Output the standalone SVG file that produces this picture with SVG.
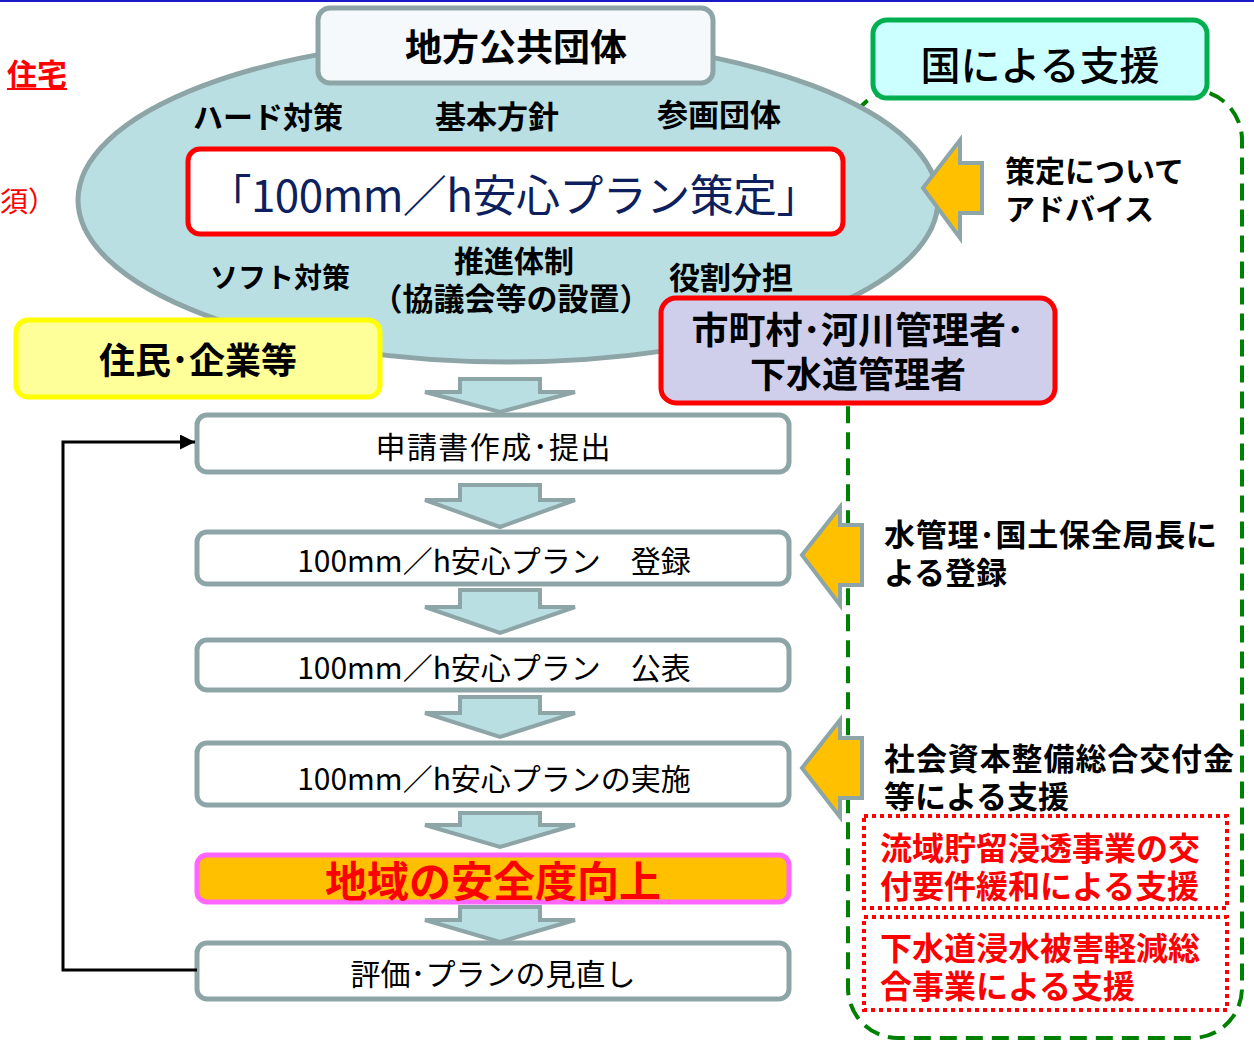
<svg xmlns="http://www.w3.org/2000/svg" width="1254" height="1040" viewBox="0 0 1254 1040">
<defs>
<style>
text{font-family:"Noto Sans CJK JP","Noto Sans CJK SC",sans-serif;}
.b{font-weight:bold;}
.blk{fill:#000;}
.red{fill:#FF0000;}
.flow{fill:#fff;stroke:#8DA5A7;stroke-width:5;}
.down{fill:#B9DFE3;stroke:#8DA5A7;stroke-width:4;stroke-linejoin:miter;}
.left{fill:#FFC000;stroke:#8DA5A7;stroke-width:4;}
.dot{fill:none;stroke:#FF0000;stroke-width:4;stroke-dasharray:4 4;}
</style>
<marker id="ah" viewBox="0 0 10 10" refX="10" refY="5" markerWidth="5" markerHeight="5" orient="auto" markerUnits="strokeWidth">
<path d="M0,0 L10,5 L0,10 z" fill="#000"/>
</marker>
</defs>
<rect width="1254" height="1040" fill="#fff"/>
<line x1="0" y1="1" x2="1254" y2="1" stroke="#1A1AC8" stroke-width="2"/>

<!-- partial texts at left edge -->
<g id="edge-texts">
<text x="7" y="85" font-size="30" class="b red">住宅</text>
<line x1="7" y1="89" x2="67" y2="89" stroke="#FF0000" stroke-width="2"/>
<text x="0" y="212" font-size="28" class="red">須）</text>
</g>

<!-- national support container -->
<g id="national-container">
<rect x="848" y="90" width="394" height="948" rx="50" fill="none" stroke="#008000" stroke-width="4" stroke-dasharray="17 9"/>
</g>

<g id="local-gov">
<ellipse cx="508" cy="200" rx="430" ry="162" fill="#B9DFE3" stroke="#8DA5A7" stroke-width="5"/>
<rect x="318" y="8" width="395" height="75" rx="12" fill="#F5F9FB" stroke="#8DA5A7" stroke-width="5"/>
<text x="516" y="61" font-size="37" class="b blk" text-anchor="middle">地方公共団体</text>
<text x="268" y="128" font-size="30" class="b blk" text-anchor="middle">ハード対策</text>
<text x="497" y="128" font-size="31" class="b blk" text-anchor="middle">基本方針</text>
<text x="719" y="126" font-size="31" class="b blk" text-anchor="middle">参画団体</text>
<text x="280" y="288" font-size="28" class="b blk" text-anchor="middle">ソフト対策</text>
<text x="514" y="272" font-size="30" class="b blk" text-anchor="middle">推進体制</text>
<text x="511" y="310" font-size="31" class="b blk" text-anchor="middle">（協議会等の設置）</text>
<text x="731" y="289" font-size="31" class="b blk" text-anchor="middle">役割分担</text>
</g>

<g id="plan-box">
<rect x="188" y="149" width="655" height="85" rx="12" fill="#fff" stroke="#FF0000" stroke-width="5"/>
<text x="514" y="212" font-size="44" fill="#0D1F5C" text-anchor="middle" textLength="613">「100mm／h安心プラン策定」</text>
</g>

<g id="residents">
<rect x="16" y="320" width="364" height="77" rx="12" fill="#FFFF99" stroke="#FFFF00" stroke-width="5"/>
<text x="198" y="374" font-size="36" class="b blk" text-anchor="middle">住民･企業等</text>
</g>

<g id="municipality">
<rect x="661" y="298" width="394" height="105" rx="15" fill="#CFCFEC" stroke="#FF0000" stroke-width="5"/>
<text x="858" y="344" font-size="37" class="b blk" text-anchor="middle">市町村･河川管理者･</text>
<text x="858" y="388" font-size="36" class="b blk" text-anchor="middle">下水道管理者</text>
</g>

<g id="national-title">
<rect x="873" y="20" width="334" height="78" rx="14" fill="#CCFFFF" stroke="#00B050" stroke-width="5"/>
<text x="1040" y="80" font-size="40" class="blk" text-anchor="middle" font-weight="500">国による支援</text>
</g>

<g id="step-apply">
<rect class="flow" x="197" y="415" width="592" height="57" rx="10"/>
<text x="493" y="458" font-size="30" class="blk" text-anchor="middle" textLength="235">申請書作成･提出</text>
</g>
<g id="step-register">
<rect class="flow" x="197" y="532" width="592" height="52" rx="10"/>
<text x="494" y="572" font-size="30" class="blk" text-anchor="middle">100mm／h安心プラン　登録</text>
</g>
<g id="step-publish">
<rect class="flow" x="197" y="640" width="592" height="50" rx="10"/>
<text x="494" y="679" font-size="30" class="blk" text-anchor="middle">100mm／h安心プラン　公表</text>
</g>
<g id="step-implement">
<rect class="flow" x="197" y="743" width="592" height="62" rx="10"/>
<text x="494" y="790" font-size="30" class="blk" text-anchor="middle">100mm／h安心プランの実施</text>
</g>
<g id="step-safety">
<rect x="197" y="855" width="592" height="47" rx="10" fill="#FFC000" stroke="#FF66FF" stroke-width="5"/>
<text x="493" y="897" font-size="42" class="b red" text-anchor="middle">地域の安全度向上</text>
</g>
<g id="step-review">
<rect class="flow" x="197" y="943" width="592" height="56" rx="10"/>
<text x="493" y="985" font-size="30" class="blk" text-anchor="middle">評価･プランの見直し</text>
</g>

<g id="support-advice">
<text x="1005" y="182" font-size="30" class="b blk">策定について</text>
<text x="1005" y="220" font-size="30" class="b blk">アドバイス</text>
</g>
<g id="support-register">
<text x="884" y="546" font-size="31" class="b blk" textLength="333">水管理･国土保全局長に</text>
<text x="884" y="584" font-size="31" class="b blk">よる登録</text>
</g>
<g id="support-grant">
<text x="884" y="770" font-size="31" class="b blk" textLength="350">社会資本整備総合交付金</text>
<text x="884" y="808" font-size="31" class="b blk">等による支援</text>
</g>
<g id="support-storage">
<rect class="dot" x="864" y="816" width="363" height="92"/>
<text x="880" y="860" font-size="32" class="b red">流域貯留浸透事業の交</text>
<text x="880" y="898" font-size="32" class="b red">付要件緩和による支援</text>
</g>
<g id="support-sewer">
<rect class="dot" x="864" y="917" width="363" height="93"/>
<text x="880" y="960" font-size="32" class="b red">下水道浸水被害軽減総</text>
<text x="880" y="998" font-size="32" class="b red">合事業による支援</text>
</g>

<g id="connectors">
<polygon class="down" points="460,379 540,379 540,392 575,392 500,412 425,392 460,392"/>
<polygon class="down" points="460,485 540,485 540,500 575,500 500,527 425,500 460,500"/>
<polygon class="down" points="460,590 540,590 540,607 575,607 500,633 425,607 460,607"/>
<polygon class="down" points="460,697 540,697 540,713 575,713 500,737 425,713 460,713"/>
<polygon class="down" points="460,813 540,813 540,825 575,825 500,847 425,825 460,825"/>
<polygon class="down" points="460,907 540,907 540,920 575,920 500,942 425,920 460,920"/>
<polygon class="left" points="923,188 960,140 960,163 982,163 982,213 960,213 960,238"/>
<polygon class="left" points="802,555 840,507 840,525 862,525 862,585 840,585 840,605"/>
<polygon class="left" points="802,768 840,720 840,738 862,738 862,798 840,798 840,817"/>
<polyline points="197,970 63,970 63,442 195,442" fill="none" stroke="#000" stroke-width="3" marker-end="url(#ah)"/>
</g>
</svg>
